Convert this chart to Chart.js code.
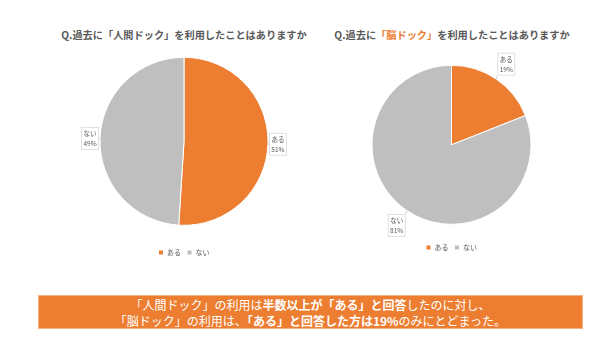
<!DOCTYPE html>
<html>
<head>
<meta charset="utf-8">
<script src="https://cdn.jsdelivr.net/npm/chart.js@4/dist/chart.umd.min.js"></script>
<style>
  html,body{margin:0;padding:0;background:#fff;}
  body{width:602px;height:345px;position:relative;overflow:hidden;font-family:"Noto Sans CJK JP","Noto Sans",sans-serif;}
  .title{position:absolute;top:27px;width:300px;text-align:center;font-size:10.2px;font-weight:bold;color:#595959;white-space:nowrap;line-height:16px;}
  .title .hl{color:#ED7D31;}
  .wrap{position:absolute;}
  .banner{position:absolute;left:38px;top:295px;width:545px;height:34px;background:#ED7D31;border:1px solid #F4B183;box-sizing:border-box;color:#fff;font-size:12px;line-height:15.5px;text-align:center;padding-top:1px;white-space:nowrap;}
  .banner b{font-weight:bold;}
</style>
</head>
<body>
<div class="title" style="left:34px;">Q.過去に「人間ドック」を利用したことはありますか</div>
<div class="title" style="left:302px;">Q.過去に<span class="hl">「脳ドック」</span>を利用したことはありますか</div>

<div class="wrap" style="left:60px;top:38px;width:250px;height:228px;"><canvas id="c1"></canvas></div>
<div class="wrap" style="left:350px;top:40px;width:200px;height:221px;"><canvas id="c2"></canvas></div>

<div class="banner">「人間ドック」の利用は<b>半数以上が「ある」と回答</b>したのに対し、<br>「脳ドック」の利用は、<b>「ある」と回答した方は19%</b>のみにとどまった。</div>

<script>
const categories = ['ある', 'ない'];
const humanDockValues = [51, 49];
const brainDockValues = [19, 81];
const sliceColors = ['#ED7D31', '#BFBFBF'];

const calloutPlugin = {
  id: 'callouts',
  afterDatasetsDraw(chart, args, opts) {
    const ctx = chart.ctx;
    const meta = chart.getDatasetMeta(0);
    const data = chart.data.datasets[0].data;
    const labels = chart.data.labels;
    ctx.save();
    meta.data.forEach((arc, i) => {
      const p = arc.getProps(['x', 'y', 'startAngle', 'endAngle', 'outerRadius'], true);
      const mid = (p.startAngle + p.endAngle) / 2;
      const d = p.outerRadius + opts.gap;
      const cx = p.x + Math.cos(mid) * d;
      const cy = p.y + Math.sin(mid) * d;
      const w = opts.w, h = opts.h;
      const bx = cx - w / 2, by = cy - h / 2;
      const ex = p.x + Math.cos(mid) * p.outerRadius;
      const ey = p.y + Math.sin(mid) * p.outerRadius;
      const nx = Math.min(Math.max(ex, bx), bx + w);
      const ny = Math.min(Math.max(ey, by), by + h);
      ctx.strokeStyle = '#BFBFBF';
      ctx.lineWidth = 0.8;
      ctx.beginPath();
      ctx.moveTo(ex, ey);
      ctx.lineTo(nx, ny);
      ctx.stroke();
      ctx.fillStyle = '#FFFFFF';
      ctx.fillRect(bx, by, w, h);
      ctx.strokeStyle = '#D9D9D9';
      ctx.strokeRect(bx + 0.5, by + 0.5, w - 1, h - 1);
      ctx.fillStyle = '#595959';
      ctx.font = '6.5px "Noto Sans CJK JP", sans-serif';
      ctx.textAlign = 'center';
      ctx.textBaseline = 'middle';
      ctx.fillText(labels[i], cx, cy - 5);
      ctx.fillText(data[i] + '%', cx, cy + 5);
    });
    ctx.restore();
  }
};

function makePie(id, values, pad, gap) {
  return new Chart(document.getElementById(id), {
    type: 'pie',
    data: {
      labels: categories,
      datasets: [{
        data: values,
        backgroundColor: sliceColors,
        borderColor: '#FFFFFF',
        borderWidth: 1
      }]
    },
    plugins: [calloutPlugin],
    options: {
      responsive: true,
      maintainAspectRatio: false,
      animation: false,
      events: [],
      layout: { padding: pad },
      plugins: {
        tooltip: { enabled: false },
        callouts: { gap: gap, w: 18, h: 23 },
        legend: {
          position: 'bottom',
          labels: {
            boxWidth: 5,
            boxHeight: 5,
            padding: 6,
            color: '#595959',
            font: { size: 7, family: '"Noto Sans CJK JP", sans-serif' }
          }
        }
      }
    }
  });
}

makePie('c1', humanDockValues, { top: 1.6, left: 39.5, right: 41.5, bottom: 0 }, 10);
makePie('c2', brainDockValues, { top: 11.6, left: 21.5, right: 18.5, bottom: 0 }, 18);
</script>
</body>
</html>
